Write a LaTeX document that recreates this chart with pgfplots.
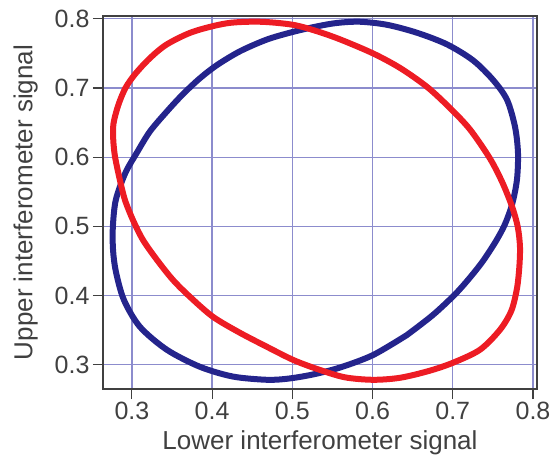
\documentclass[border=0pt]{standalone}
\usepackage{fontspec}
\setmainfont{Liberation Sans}
\usepackage{pgfplots}
\pgfplotsset{compat=1.18}
\definecolor{ringred}{RGB}{237,28,36}
\definecolor{ringblue}{RGB}{36,36,140}
\definecolor{gridblue}{RGB}{140,140,205}
\definecolor{labelgray}{RGB}{64,64,64}
\begin{document}
\begin{tikzpicture}
\begin{axis}[
  name=ax,
  scale only axis,
  width=434pt, height=373pt,
  xmin=0.264, xmax=0.805,
  ymin=0.265, ymax=0.804,
  xtick={0.3,0.4,0.5,0.6,0.7,0.8},
  ytick={0.3,0.4,0.5,0.6,0.7,0.8},
  /pgf/number format/assume math mode=true,
  /pgf/number format/fixed,
  /pgf/number format/precision=1,
  ticklabel style={font=\fontsize{25}{29}\selectfont, text=labelgray},
  label style={font=\fontsize{26}{30}\selectfont, text=labelgray},
  xlabel={Lower interferometer signal},
  ylabel={Upper interferometer signal},
  xlabel shift=4pt,
  ylabel shift=10pt,
  grid=major,
  grid style={gridblue, line width=1.3pt},
  axis line style={labelgray, line width=1.2pt},
  tick style={labelgray, line width=1.2pt},
  tick align=outside,
  tick pos=left,
  major tick length=10pt,
]
% lower-detector vs upper-detector Lissajous traces
\addplot[ringblue, line width=6pt, line join=round, smooth] coordinates {
(0.6429,0.3430) (0.6005,0.3140) (0.5594,0.2960) (0.5257,0.2860)
(0.4950,0.2800) (0.4683,0.2783) (0.4259,0.2830) (0.3848,0.2971) (0.3436,0.3217)
(0.3100,0.3549) (0.2900,0.3939) (0.2800,0.4350) (0.2765,0.4662)
(0.2763,0.4994) (0.2800,0.5384) (0.2920,0.5775) (0.3062,0.6064) (0.3224,0.6370)
(0.3436,0.6660) (0.3636,0.6910) (0.3848,0.7140) (0.4060,0.7330) (0.4347,0.7530)
(0.4683,0.7700) (0.5007,0.7810) (0.5307,0.7890) (0.5560,0.7940) (0.5843,0.7957)
(0.6180,0.7913) (0.6554,0.7798) (0.6928,0.7630) (0.7252,0.7400) (0.7501,0.7118)
(0.7676,0.6830) (0.7776,0.6439) (0.7813,0.6064) (0.7800,0.5673) (0.7740,0.5320)
(0.7650,0.5030) (0.7540,0.4790) (0.7377,0.4500) (0.7214,0.4260) (0.7030,0.4020)
(0.6753,0.3720) (0.6429,0.3430)
};
\addplot[ringred, line width=6pt, line join=round, smooth] coordinates {
(0.4683,0.3260) (0.4347,0.3462) (0.4010,0.3694) (0.3723,0.3983) (0.3511,0.4228)
(0.3312,0.4517) (0.3137,0.4806) (0.3012,0.5095) (0.2913,0.5384) (0.2850,0.5673)
(0.2790,0.6006) (0.2768,0.6250) (0.2770,0.6480) (0.2830,0.6750) (0.2920,0.7000)
(0.3040,0.7200) (0.3224,0.7430) (0.3436,0.7630) (0.3761,0.7812) (0.4185,0.7935)
(0.4596,0.7957) (0.5007,0.7913) (0.5307,0.7820) (0.5600,0.7700) (0.6005,0.7500)
(0.6342,0.7290) (0.6678,0.7017) (0.6965,0.6710) (0.7215,0.6400) (0.7464,0.5980)
(0.7620,0.5630) (0.7740,0.5283) (0.7810,0.4994) (0.7838,0.4705) (0.7830,0.4416)
(0.7800,0.4100) (0.7730,0.3780) (0.7589,0.3506) (0.7339,0.3217) (0.7002,0.3029)
(0.6700,0.2910) (0.6342,0.2812) (0.6005,0.2783) (0.5650,0.2820) (0.5307,0.2940)
(0.5007,0.3072) (0.4683,0.3260)
};
\end{axis}
\pgfresetboundingbox
\useasboundingbox ([shift={(-103pt,-74pt)}]ax.south west) rectangle ([shift={(449pt,389pt)}]ax.south west);
\end{tikzpicture}
\end{document}
